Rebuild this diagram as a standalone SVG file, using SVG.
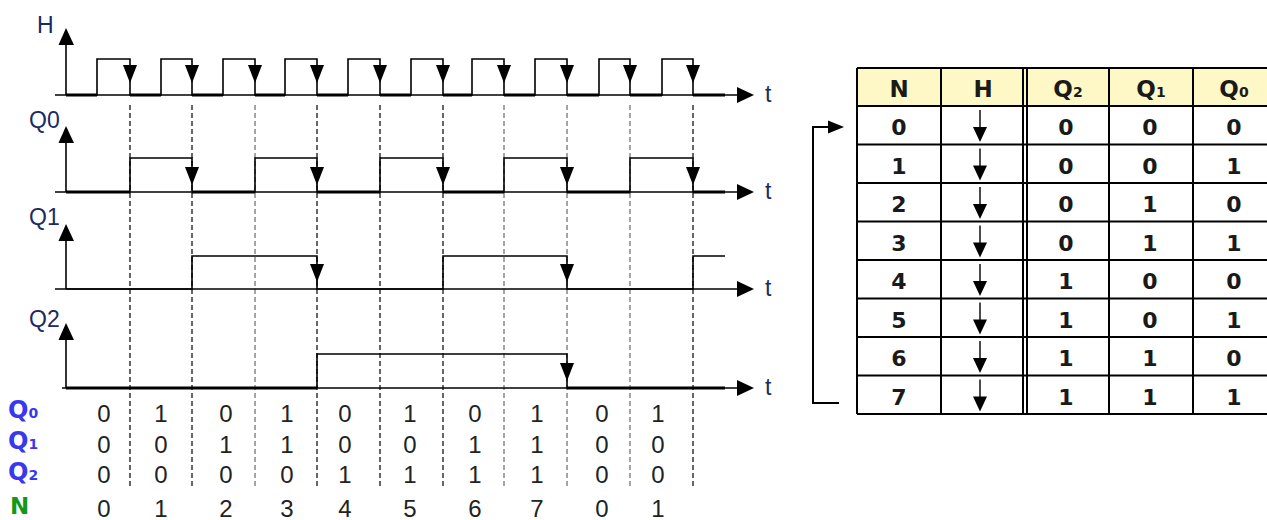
<svg xmlns="http://www.w3.org/2000/svg" width="1267" height="520" viewBox="0 0 1267 520">
<style>
.ax{stroke:#000;stroke-width:1.6;fill:none}
.wf{stroke:#000;stroke-width:1.6;fill:none}
.low{stroke:#000;stroke-width:3;fill:none}
.ah{fill:#000;stroke:none}
.dk{stroke:#333;stroke-width:1.5;stroke-dasharray:5,3;fill:none}
.gr{stroke:#888;stroke-width:1.5;stroke-dasharray:5,3;fill:none}
.lbl{font-family:"Liberation Sans",Arial,sans-serif;font-size:23px;fill:#1c2a60}
.dig{font-family:"Liberation Sans",Arial,sans-serif;font-size:24px;fill:#222;text-anchor:middle}
.bl{font-family:"DejaVu Sans",Verdana,sans-serif;font-weight:bold;font-size:24px;fill:#3838f0}
.gn{font-family:"DejaVu Sans",Verdana,sans-serif;font-weight:bold;font-size:23px;fill:#15961a}
.tb{font-family:"DejaVu Sans",Verdana,sans-serif;font-weight:bold;font-size:22px;fill:#1a1a1a;text-anchor:middle}
.th{font-family:"DejaVu Sans",Verdana,sans-serif;font-weight:bold;font-size:23px;fill:#1a1a1a;text-anchor:middle}
.sub{font-size:14px}
.tl{stroke:#000;stroke-width:2;fill:none}
.ta{stroke:#000;stroke-width:1.4;fill:none}
</style>

<g id="gridlines">
<line class="dk" x1="130" y1="105" x2="130" y2="488"/>
<line class="dk" x1="192" y1="105" x2="192" y2="488"/>
<line class="gr" x1="255" y1="105" x2="255" y2="488"/>
<line class="dk" x1="317" y1="105" x2="317" y2="488"/>
<line class="dk" x1="380" y1="105" x2="380" y2="488"/>
<line class="dk" x1="443" y1="105" x2="443" y2="488"/>
<line class="gr" x1="504" y1="105" x2="504" y2="488"/>
<line class="gr" x1="567" y1="105" x2="567" y2="488"/>
<line class="gr" x1="630" y1="105" x2="630" y2="488"/>
<line class="dk" x1="693" y1="105" x2="693" y2="488"/>
</g>

<g id="signal-H">
<text class="lbl" x="37" y="33">H</text>
<line class="ax" x1="66" y1="95" x2="66" y2="44"/>
<polygon class="ah" points="58.5,45 74,45 66,28"/>
<line class="ax" x1="55" y1="95" x2="738" y2="95"/>
<polygon class="ah" points="737,87 754,95 737,103"/>
<text class="lbl" x="765" y="102">t</text>
<path class="wf" d="M66,95 H97 V59 H130 V95 H161 V59 H192 V95 H223 V59 H255 V95 H285 V59 H317 V95 H348 V59 H380 V95 H411 V59 H443 V95 H472 V59 H504 V95 H535 V59 H567 V95 H599 V59 H630 V95 H662 V59 H693 V95 H725"/>
<path class="low" d="M66,95 H97 M130,95 H161 M192,95 H223 M255,95 H285 M317,95 H348 M380,95 H411 M443,95 H472 M504,95 H535 M567,95 H599 M630,95 H662 M693,95 H725"/>
<polygon class="ah" points="123,65 137,65 130,83"/>
<polygon class="ah" points="185,65 199,65 192,83"/>
<polygon class="ah" points="248,65 262,65 255,83"/>
<polygon class="ah" points="310,65 324,65 317,83"/>
<polygon class="ah" points="373,65 387,65 380,83"/>
<polygon class="ah" points="436,65 450,65 443,83"/>
<polygon class="ah" points="497,65 511,65 504,83"/>
<polygon class="ah" points="560,65 574,65 567,83"/>
<polygon class="ah" points="623,65 637,65 630,83"/>
<polygon class="ah" points="686,65 700,65 693,83"/>
</g>

<g id="signal-Q0">
<text class="lbl" x="29" y="128">Q0</text>
<line class="ax" x1="66" y1="192" x2="66" y2="142"/>
<polygon class="ah" points="58.5,143 74,143 66,126"/>
<line class="ax" x1="55" y1="192" x2="738" y2="192"/>
<polygon class="ah" points="737,184 754,192 737,200"/>
<text class="lbl" x="765" y="199">t</text>
<path class="wf" d="M66,192 H130 V158 H192 V192 H255 V158 H317 V192 H380 V158 H443 V192 H504 V158 H567 V192 H630 V158 H693 V192 H725"/>
<path class="low" d="M66,192 H130 M192,192 H255 M317,192 H380 M443,192 H504 M567,192 H630 M693,192 H725"/>
<polygon class="ah" points="185,167 199,167 192,185"/>
<polygon class="ah" points="310,167 324,167 317,185"/>
<polygon class="ah" points="436,167 450,167 443,185"/>
<polygon class="ah" points="560,167 574,167 567,185"/>
<polygon class="ah" points="686,167 700,167 693,185"/>
</g>

<g id="signal-Q1">
<text class="lbl" x="29" y="225">Q1</text>
<line class="ax" x1="66" y1="289" x2="66" y2="240"/>
<polygon class="ah" points="58.5,241 74,241 66,224"/>
<line class="ax" x1="55" y1="289" x2="738" y2="289"/>
<polygon class="ah" points="737,281 754,289 737,297"/>
<text class="lbl" x="765" y="296">t</text>
<path class="wf" d="M66,289 H192 V256 H317 V289 H443 V256 H567 V289 H693 V256 H725"/>
<polygon class="ah" points="310,264 324,264 317,282"/>
<polygon class="ah" points="560,264 574,264 567,282"/>
</g>

<g id="signal-Q2">
<text class="lbl" x="29" y="327">Q2</text>
<line class="ax" x1="66" y1="388" x2="66" y2="339"/>
<polygon class="ah" points="58.5,340 74,340 66,323"/>
<line class="ax" x1="62" y1="388" x2="738" y2="388"/>
<polygon class="ah" points="737,380 754,388 737,396"/>
<text class="lbl" x="765" y="395">t</text>
<path class="wf" d="M66,388 H317 V354 H567 V388 H725"/>
<path class="low" d="M66,388 H317 M567,388 H725"/>
<polygon class="ah" points="560,363 574,363 567,381"/>
</g>

<g id="value-rows">
<text class="bl" x="8" y="418">Q<tspan class="sub">0</tspan></text>
<text class="bl" x="8" y="449">Q<tspan class="sub">1</tspan></text>
<text class="bl" x="8" y="480">Q<tspan class="sub">2</tspan></text>
<text class="gn" x="10" y="514">N</text>
<g class="dig">
<text x="104" y="422">0</text><text x="161" y="422">1</text><text x="226" y="422">0</text><text x="287" y="422">1</text><text x="345" y="422">0</text><text x="410" y="422">1</text><text x="475" y="422">0</text><text x="537" y="422">1</text><text x="602" y="422">0</text><text x="658" y="422">1</text>
<text x="104" y="453">0</text><text x="161" y="453">0</text><text x="226" y="453">1</text><text x="287" y="453">1</text><text x="345" y="453">0</text><text x="410" y="453">0</text><text x="475" y="453">1</text><text x="537" y="453">1</text><text x="602" y="453">0</text><text x="658" y="453">0</text>
<text x="104" y="483">0</text><text x="161" y="483">0</text><text x="226" y="483">0</text><text x="287" y="483">0</text><text x="345" y="483">1</text><text x="410" y="483">1</text><text x="475" y="483">1</text><text x="537" y="483">1</text><text x="602" y="483">0</text><text x="658" y="483">0</text>
<text x="104" y="517">0</text><text x="161" y="517">1</text><text x="226" y="517">2</text><text x="287" y="517">3</text><text x="345" y="517">4</text><text x="410" y="517">5</text><text x="475" y="517">6</text><text x="537" y="517">7</text><text x="602" y="517">0</text><text x="658" y="517">1</text>
</g>
</g>

<g id="table">
<rect x="857" y="68" width="420" height="38" fill="#fdf8c6"/>
<path class="tl" d="M857,68 H1280 M857,106 H1280 M857,144.5 H1280 M857,183 H1280 M857,221.5 H1280 M857,260 H1280 M857,298.5 H1280 M857,337 H1280 M857,375.5 H1280 M857,414 H1280"/>
<path class="tl" d="M857,68 V414 M941,68 V414 M1023,68 V414 M1027,68 V414 M1109,68 V414 M1193,68 V414"/>
<text class="th" x="899" y="97">N</text>
<text class="th" x="983" y="97">H</text>
<text class="th" x="1068" y="97">Q<tspan class="sub">2</tspan></text>
<text class="th" x="1151" y="97">Q<tspan class="sub">1</tspan></text>
<text class="th" x="1234" y="97">Q<tspan class="sub">0</tspan></text>
<g class="tb">
<text x="899" y="135">0</text><text x="1066" y="135">0</text><text x="1150" y="135">0</text><text x="1234" y="135">0</text>
<text x="899" y="173.5">1</text><text x="1066" y="173.5">0</text><text x="1150" y="173.5">0</text><text x="1234" y="173.5">1</text>
<text x="899" y="212">2</text><text x="1066" y="212">0</text><text x="1150" y="212">1</text><text x="1234" y="212">0</text>
<text x="899" y="250.5">3</text><text x="1066" y="250.5">0</text><text x="1150" y="250.5">1</text><text x="1234" y="250.5">1</text>
<text x="899" y="289">4</text><text x="1066" y="289">1</text><text x="1150" y="289">0</text><text x="1234" y="289">0</text>
<text x="899" y="327.5">5</text><text x="1066" y="327.5">1</text><text x="1150" y="327.5">0</text><text x="1234" y="327.5">1</text>
<text x="899" y="366">6</text><text x="1066" y="366">1</text><text x="1150" y="366">1</text><text x="1234" y="366">0</text>
<text x="899" y="404.5">7</text><text x="1066" y="404.5">1</text><text x="1150" y="404.5">1</text><text x="1234" y="404.5">1</text>
</g>
<g id="clock-arrows">
<path class="ta" d="M980,110 V128 M980,148.5 V166.5 M980,187 V205 M980,225.5 V243.5 M980,264 V282 M980,302.5 V320.5 M980,341 V359 M980,379.5 V397.5"/>
<polygon class="ah" points="973,127 987,127 980,142"/>
<polygon class="ah" points="973,165.5 987,165.5 980,180.5"/>
<polygon class="ah" points="973,204 987,204 980,219"/>
<polygon class="ah" points="973,242.5 987,242.5 980,257.5"/>
<polygon class="ah" points="973,281 987,281 980,296"/>
<polygon class="ah" points="973,319.5 987,319.5 980,334.5"/>
<polygon class="ah" points="973,358 987,358 980,373"/>
<polygon class="ah" points="973,396.5 987,396.5 980,411.5"/>
</g>
</g>

<g id="connectors">
<path class="tl" d="M839,403 H813 V127 H830"/>
<polygon class="ah" points="828,120.5 844,127 828,133.5"/>
</g>
</svg>
